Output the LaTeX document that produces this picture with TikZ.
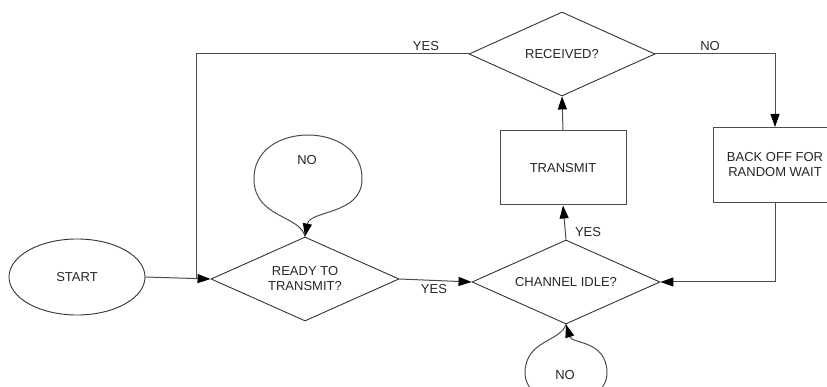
\documentclass[tikz,border=0pt]{standalone}
\usepackage{fontspec}
\setmainfont{Liberation Sans}
\usetikzlibrary{shapes.geometric,arrows.meta}
\begin{document}
\begin{tikzpicture}[x=1pt,y=-1pt,
  font=\fontsize{13}{15}\selectfont,
  every node/.style={text=black!85},
  line/.style={draw=black!70, line width=1pt},
  arrow/.style={line, -{Triangle[length=13pt,width=9pt,color=black]}},
  decision/.style={shape=diamond, draw=black!80, line width=0.9pt, inner sep=0pt,
    aspect=2.2, minimum width=#1, minimum height=84pt, align=center},
  decision/.default=188pt,
  process/.style={rectangle, draw=black!70, line width=1pt, align=center,
    minimum height=74pt},
  terminal/.style={ellipse, draw=black!80, line width=0.9pt,
    minimum width=136pt, minimum height=76pt},
  lbl/.style={inner sep=0pt}
]
\useasboundingbox (0,0) rectangle (827,387);
\clip (0,0) rectangle (827,387);

% nodes
\node[terminal] (start) at (77,277) {START};
\node[decision] (ready) at (305,279) {READY TO\\TRANSMIT?};
\node[decision] (idle) at (566,282) {CHANNEL IDLE?};
\node[process, minimum width=126pt] (tx) at (563,168) {TRANSMIT};
\node[decision=186pt] (recv) at (562,54) {RECEIVED?};
\node[process, minimum width=124pt, minimum height=75pt] (back) at (775,165) {BACK OFF FOR\\RANDOM WAIT};

% helper points
\coordinate (joinL) at (196,278);
\coordinate (topL) at (196,54);
\coordinate (topR) at (775,54);
\coordinate (botR) at (775,282);

% connectors
\draw[arrow] (start.east) -- (ready.west);
\draw[line] (recv.west) -- (topL) -- (joinL);
\draw[arrow] (ready.east) -- (idle.west);
\draw[arrow] (idle.north) -- (tx.south);
\draw[arrow] (tx.north) -- (recv.south);
\draw[arrow] (recv.east) -- (topR) -- (back.north);
\draw[arrow] (back.south) -- (botR) -- (idle.east);

% self loops
\draw[arrow] (ready.north) .. controls (300,215) and (255,218) .. (254,180)
  .. controls (252,120) and (364,120) .. (362,180)
  .. controls (361,215) and (310,210) .. (ready.north);
\node[lbl] (noA) at (307,160) {NO};

\draw[arrow] (idle.south) .. controls (560,342) and (526,340) .. (525,372)
  .. controls (524,412) and (608,412) .. (607,372)
  .. controls (606,340) and (572,344) .. (idle.south);
\node[lbl] (noB) at (565,375) {NO};

% branch labels
\node[lbl] (yesA) at (426,46) {YES};
\node[lbl] (noC) at (710,46) {NO};
\node[lbl] (yesB) at (434,289) {YES};
\node[lbl] (yesC) at (588,232) {YES};
\end{tikzpicture}
\end{document}
